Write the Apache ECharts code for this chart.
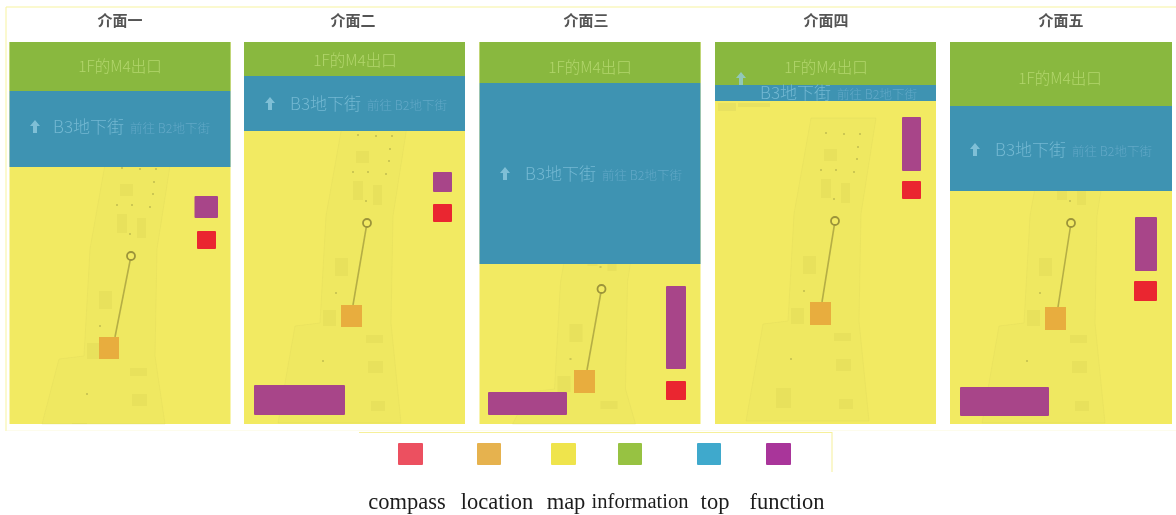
<!DOCTYPE html>
<html><head><meta charset="utf-8">
<style>html,body{margin:0;padding:0;background:#fff}#c{width:1176px;height:515px;filter:blur(0.65px)}</style>
<script src="https://cdn.jsdelivr.net/npm/echarts@6/dist/echarts.min.js"></script>
</head><body><div id="c"></div>
<script>
// Categories and legend
const categories = ['介面一','介面二','介面三','介面四','介面五'];
const legendNames = ['compass','location','map','information','top','function'];
const legendColors = ['#ec5060','#e6b24e','#efe44c','#97c242','#3fa9cc','#a9359a'];
const legendBoxes = [[398,443,423,465],[477,443,501,465],[551,443,576,465],[618,443,642,465],[697,443,721,465],[766,443,791,465]];
const legendLabelX = [407,497,566,640,715,787];
const legendFont = [22.5,22.5,22.5,20.5,22.5,22.5];
// Panel regions: [x0,y0,x1,y1]
const mapRegions = [[9.5,42,230.5,424],[244,42,465,424],[479.5,42,700.5,424],[715,42,936,424],[950,42,1172,424]];
const infoRegions = [[9.5,42,230.5,91],[244,42,465,76],[479.5,42,700.5,83],[715,42,936,85],[950,42,1172,106]];
const topRegions = [[9.5,91,230.5,167],[244,76,465,131],[479.5,83,700.5,264],[715,85,936,101],[950,106,1172,191]];
const functionRegions = [[194.5,196,218,218],[433,172,452,192],[254,385,345,415],[666,286,686,369],[488,392,567,415],[902,117,921,171],[1135,217,1157,271],[960,387,1049,416]];
const compassRegions = [[197,231,216,249],[433,204,452,222],[666,381,686,400],[902,181,921,199],[1134,281,1157,301]];
const locationRegions = [[99,337,119,359],[341,305,362,327],[574,370,595,393],[810,302,831,325],[1045,307,1066,330]];
const routeEnds = [[131,256,115,337],[367,223,353,305],[601.5,289,587,370],[835,221,822,302],[1071,223,1058,307]];
const titleX = [120,353,586,826,1061];
const infoLabelPos = [[120,66],[355,60],[590,67],[826,67],[1060,78]];
const arrowPos = [[35,127],[270,104],[505,174],[741,79],[975,150]];
const topLabelPos = [[53,127],[290,104],[525,174],[760,93],[995,150]];
// Faint building plan, relative to the route's start circle
const planOutline = [[-24,-103],[41,-103],[26,-7],[24,100],[34,200],[-89,200],[-72,103],[-47,100],[-41,-7]];
const planBlobs = [[-11,-72,2,-60],[-14,-42,-4,-23],[6,-38,15,-18],[-32,35,-19,53],[-44,87,-31,103],[-1,112,16,120],[1,138,16,150],[-59,167,-44,187],[4,178,18,188]];
const planDots = [[-9,-88],[9,-87],[25,-87],[23,-74],[22,-62],[-14,-51],[1,-51],[19,-49],[-1,-22],[-31,70],[-44,138]];
const frameTop = [[6,6.5,1176,7.5],[5.5,7,6.5,431]];
const frameBottom = [[7,430,1176,431]];
const legendFrame = [[359,432,832,433],[831.5,432,832.5,472]];

const BOTTOM = 424;
function rectSeries(rows, color, z, r){
  return {type:'custom',coordinateSystem:'cartesian2d',z:z,silent:true,clip:false,data:rows,
    renderItem:(p,api)=>{
      const a=api.coord([api.value(0),api.value(1)]),b=api.coord([api.value(2),api.value(3)]);
      const c=Array.isArray(color)?color[p.dataIndex]:color;
      return {type:'rect',shape:{x:a[0],y:a[1],width:b[0]-a[0],height:b[1]-a[1],r:r||0},style:{fill:c}};
    }};
}
function textSeries(rows, z, styleOf){
  return {type:'custom',coordinateSystem:'cartesian2d',z:z,silent:true,clip:false,data:rows,
    renderItem:(p,api)=>{
      const a=api.coord([api.value(0),api.value(1)]);
      return {type:'text',x:a[0],y:a[1],style:styleOf(rows[p.dataIndex])};
    }};
}
const blobRows=[],dotRows=[],outlineRows=[];
routeEnds.forEach((e,i)=>{
  const [cx,cy]=e;
  planBlobs.forEach(b=>blobRows.push([cx+b[0],Math.min(cy+b[1],BOTTOM),cx+b[2],Math.min(cy+b[3],BOTTOM)]));
  planDots.forEach(d=>{ if(cy+d[1]<BOTTOM-2) dotRows.push([cx+d[0]-1,cy+d[1]-1,cx+d[0]+1,cy+d[1]+1]); });
  outlineRows.push(i);
});
const outlineSeries={type:'custom',coordinateSystem:'cartesian2d',z:3,silent:true,clip:false,data:outlineRows,
  renderItem:(p,api)=>{
    const e=routeEnds[api.value(0)];
    const pts=planOutline.map(o=>api.coord([e[0]+o[0],Math.min(e[1]+o[1],BOTTOM)]));
    return {type:'polygon',shape:{points:pts},style:{fill:'rgba(226,220,90,0.14)',stroke:'rgba(215,210,90,0.22)',lineWidth:1}};
  }};
const routeSeries={type:'custom',coordinateSystem:'cartesian2d',z:6,silent:true,clip:false,data:routeEnds,
  renderItem:(p,api)=>{
    const a=api.coord([api.value(0),api.value(1)]),b=api.coord([api.value(2),api.value(3)]);
    return {type:'group',children:[
      {type:'line',shape:{x1:a[0],y1:a[1],x2:b[0],y2:b[1]},style:{stroke:'#b5ae45',lineWidth:1.6}},
      {type:'circle',shape:{cx:a[0],cy:a[1],r:4},style:{fill:'#f2ea62',stroke:'#9c943a',lineWidth:1.8}}
    ]};
  }};
const arrowSeries={type:'custom',coordinateSystem:'cartesian2d',z:12,silent:true,clip:false,data:arrowPos,
  renderItem:(p,api)=>{
    const a=api.coord([api.value(0),api.value(1)]);
    const x=a[0],y=a[1];
    return {type:'polygon',shape:{points:[[x,y-7],[x+5,y-1],[x+2,y-1],[x+2,y+6],[x-2,y+6],[x-2,y-1],[x-5,y-1]]},
      style:{fill:'rgba(150,205,225,0.75)'}};
  }};
const CJK='"Noto Sans CJK SC","Noto Sans",sans-serif';
const option={
  animation:false,backgroundColor:'#fff',
  grid:{left:0,right:0,top:0,bottom:0},
  xAxis:{type:'value',min:0,max:1176,show:false},
  yAxis:{type:'value',min:0,max:515,inverse:true,show:false},
  series:[
    rectSeries(frameTop,'#f8f3a0',1),
    rectSeries(frameBottom,'#fdfcec',1),
    rectSeries(legendFrame,'#f6f09a',1),
    rectSeries(mapRegions,'#f2ea62',2),
    outlineSeries,
    rectSeries(blobRows,'rgba(214,208,84,0.3)',4),
    rectSeries(dotRows,'rgba(170,165,70,0.5)',4),
    rectSeries([[718,103,736,111],[738,103,770,107]],'rgba(225,218,95,0.6)',4),
    routeSeries,
    rectSeries(infoRegions,'#89b83f',8),
    rectSeries(topRegions,'#3e93b2',9),
    rectSeries(functionRegions,'#a84589',10,1),
    rectSeries(compassRegions,'#ea2630',10,1),
    rectSeries(locationRegions,'#e8ad3e',10),
    rectSeries(legendBoxes,legendColors,10,1),
    arrowSeries,
    textSeries(categories.map((c,i)=>[titleX[i],20,c]),12,r=>({text:r[2],fill:'#555',align:'center',verticalAlign:'middle',font:'bold 15px '+CJK})),
    textSeries(infoLabelPos.map(p=>[p[0],p[1],'1F的M4出口']),12,r=>({text:r[2],fill:'rgba(186,218,116,0.85)',align:'center',verticalAlign:'middle',font:'300 15.5px '+CJK})),
    textSeries(topLabelPos.map(p=>[p[0],p[1],'B3地下街']),12,r=>({text:r[2],fill:'rgba(125,190,215,0.85)',align:'left',verticalAlign:'middle',font:'300 17px '+CJK})),
    textSeries(topLabelPos.map(p=>[p[0]+77,p[1]+1,'前往 B2地下街']),12,r=>({text:r[2],fill:'rgba(110,175,205,0.75)',align:'left',verticalAlign:'middle',font:'300 12.5px '+CJK})),
    textSeries(legendNames.map((n,i)=>[legendLabelX[i],503,n,legendFont[i]]),12,r=>({text:r[2],fill:'#1c1c1c',align:'center',verticalAlign:'middle',font:r[3]+'px "Liberation Serif",serif'}))
  ]
};
echarts.init(document.getElementById('c')).setOption(option);
</script></body></html>
